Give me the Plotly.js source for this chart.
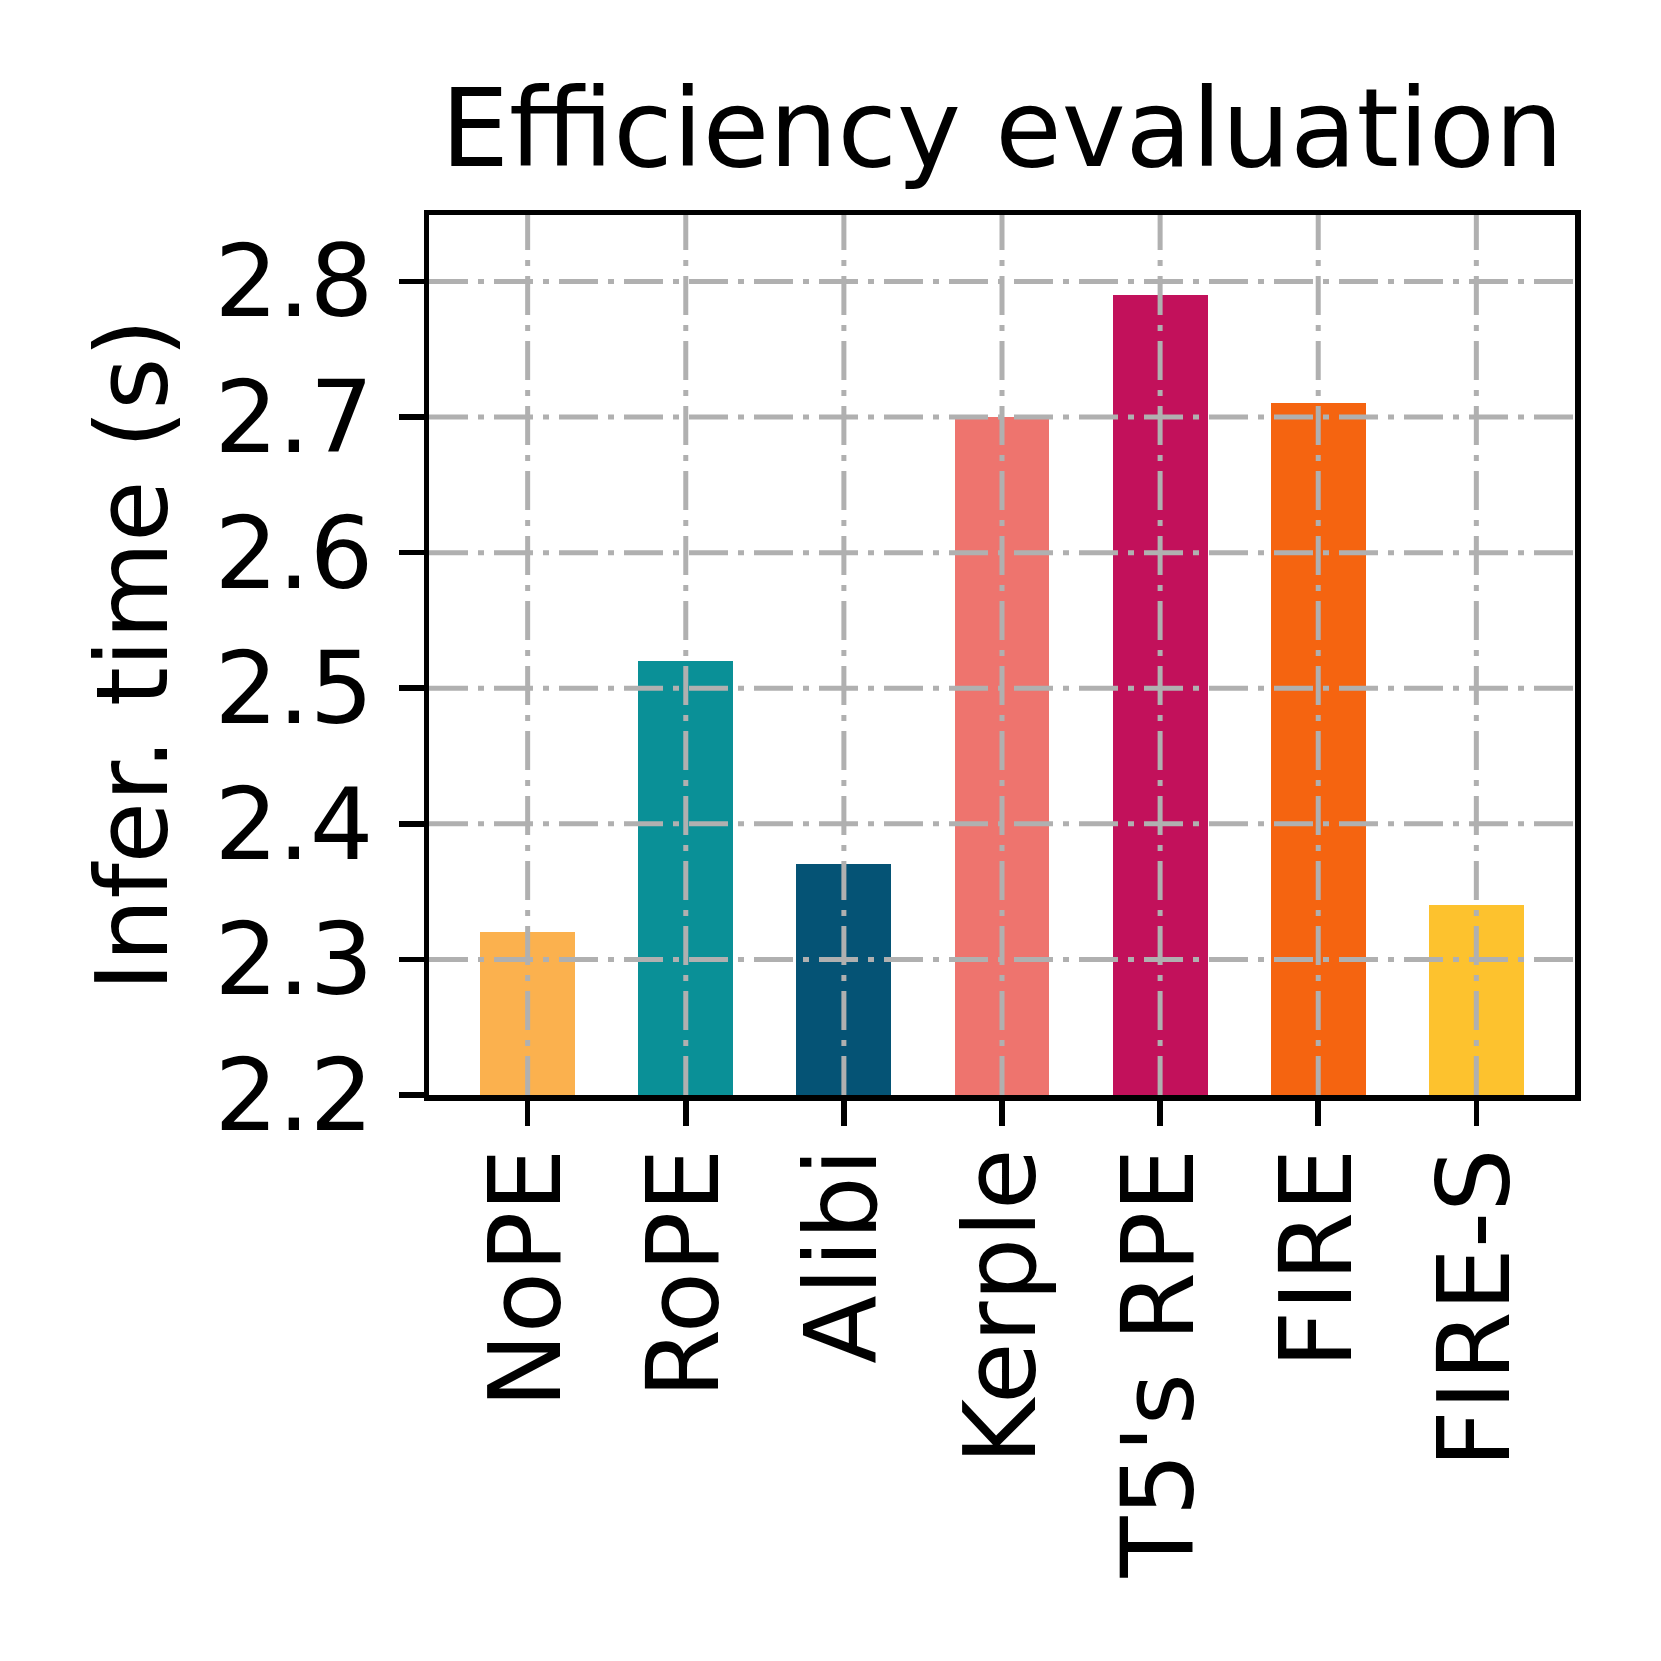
<!DOCTYPE html>
<html>
<head>
<meta charset="utf-8">
<script src="https://cdn.plot.ly/plotly-3.0.1.min.js"></script>
<style>html,body{margin:0;padding:0;background:#fff;}</style>
</head>
<body>
<div id="chart" style="width:1661px;height:1661px;"></div>
<script>
const categories = ["NoPE", "RoPE", "Alibi", "Kerple", "T5's RPE", "FIRE", "FIRE-S"];
const inferTime = [2.32, 2.52, 2.37, 2.70, 2.79, 2.71, 2.34];
const barColors = ["#FBB14E", "#0A9097", "#055375", "#EE746E", "#C2115B", "#F56410", "#FDC22E"];
const yTicks = [2.2, 2.3, 2.4, 2.5, 2.6, 2.7, 2.8];
const yTickLabels = ["2.2", "2.3", "2.4", "2.5", "2.6", "2.7", "2.8"];

const FONT = "DejaVu Sans, Verdana, sans-serif";
const gridDash = "39px,10px,6px,10px";
const gridColor = "#b0b0b0";
const gridW = 5;

const xIdx = categories.map((c, i) => i);

const trace = {
  type: "bar",
  x: xIdx,
  y: inferTime,
  width: 0.6,
  marker: {color: barColors, line: {width: 0}},
  hoverinfo: "x+y"
};

const shapes = [];
yTicks.slice(1).forEach(v => {
  shapes.push({type: "line", xref: "paper", yref: "y", x0: 0, x1: 1, y0: v, y1: v,
    layer: "above", line: {color: gridColor, width: gridW, dash: gridDash}});
});
xIdx.forEach(v => {
  shapes.push({type: "line", xref: "x", yref: "paper", x0: v, x1: v, y0: 0, y1: 1,
    layer: "above", line: {color: gridColor, width: gridW, dash: gridDash}});
});

const layout = {
  width: 1661, height: 1661,
  margin: {l: 429, r: 86, t: 215, b: 566, pad: 0},
  paper_bgcolor: "#fff", plot_bgcolor: "#fff",
  font: {family: FONT, color: "#000", size: 100},
  showlegend: false,
  bargap: 0,
  title: {text: "Efficiency evaluation", font: {family: FONT, size: 108, color: "#000"},
    x: 0.5, xanchor: "center", xref: "paper", y: 1 - 166/1661, yref: "container", yanchor: "bottom"},
  xaxis: {
    range: [-0.624, 6.624],
    tickmode: "array", tickvals: xIdx, ticktext: categories,
    tickangle: -90,
    tickfont: {family: FONT, size: 100, color: "#000"},
    ticks: "outside", ticklen: 25, tickwidth: 5.5, tickcolor: "#000",
    ticklabelstandoff: -17,
    showline: true, linecolor: "#000", linewidth: 5.5, mirror: true,
    showgrid: false, zeroline: false, fixedrange: true
  },
  yaxis: {
    range: [2.2, 2.849],
    tickmode: "array", tickvals: yTicks, ticktext: yTickLabels,
    tickfont: {family: FONT, size: 100, color: "#000"},
    ticks: "outside", ticklen: 25, tickwidth: 5.5, tickcolor: "#000",
    ticklabelstandoff: 5,
    showline: true, linecolor: "#000", linewidth: 5.5, mirror: true,
    showgrid: false, zeroline: false, fixedrange: true,
    title: {text: "Infer. time (s)", font: {family: FONT, size: 100, color: "#000"}, standoff: 15}
  },
  shapes: shapes
};

Plotly.newPlot("chart", [trace], layout, {displayModeBar: false, staticPlot: true});
</script>
</body>
</html>
